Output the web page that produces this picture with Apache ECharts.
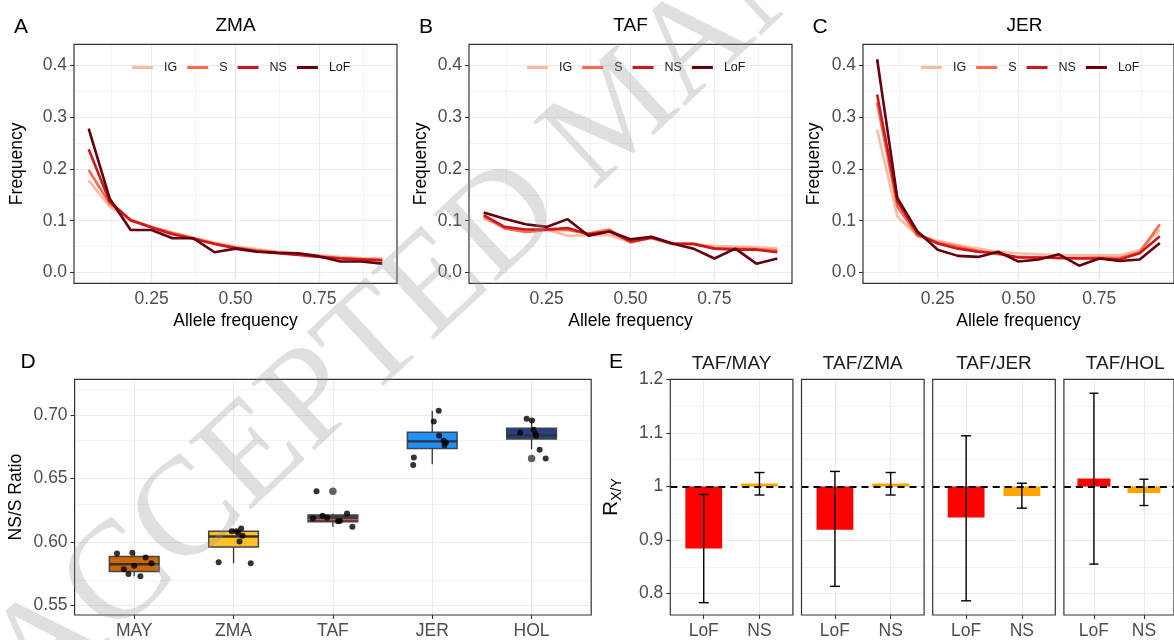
<!DOCTYPE html>
<html>
<head>
<meta charset="utf-8">
<script src="https://cdn.jsdelivr.net/npm/echarts@6/dist/echarts.min.js"></script>
<style>
html, body { margin: 0; padding: 0; background: #fff; }
#chart { width: 1174px; height: 640px; }
</style>
</head>
<body>
<div id="chart"></div>
<script>
// ---- data: site frequency spectra (panels A-C) ----
var AF_BINS = [0.0625, 0.125, 0.1875, 0.25, 0.3125, 0.375, 0.4375, 0.5, 0.5625, 0.625, 0.6875, 0.75, 0.8125, 0.875, 0.9375];
var SFS_CLASSES = ['IG', 'S', 'NS', 'LoF'];
var SFS_POPS = ['ZMA', 'TAF', 'JER'];

var ZMA_IG  = [0.178, 0.127, 0.100, 0.088, 0.077, 0.067, 0.058, 0.050, 0.045, 0.040, 0.036, 0.033, 0.030, 0.028, 0.027];
var ZMA_S   = [0.198, 0.133, 0.102, 0.088, 0.076, 0.066, 0.056, 0.048, 0.043, 0.039, 0.035, 0.031, 0.028, 0.026, 0.025];
var ZMA_NS  = [0.238, 0.137, 0.101, 0.087, 0.074, 0.065, 0.055, 0.047, 0.041, 0.037, 0.034, 0.030, 0.027, 0.025, 0.023];
var ZMA_LOF = [0.278, 0.143, 0.082, 0.082, 0.066, 0.066, 0.039, 0.046, 0.040, 0.038, 0.037, 0.031, 0.021, 0.021, 0.017];

var TAF_IG  = [0.104, 0.088, 0.079, 0.083, 0.071, 0.072, 0.072, 0.059, 0.066, 0.055, 0.054, 0.051, 0.050, 0.049, 0.046];
var TAF_S   = [0.108, 0.085, 0.078, 0.082, 0.082, 0.075, 0.083, 0.058, 0.067, 0.055, 0.056, 0.047, 0.046, 0.045, 0.043];
var TAF_NS  = [0.111, 0.088, 0.083, 0.083, 0.086, 0.074, 0.079, 0.060, 0.067, 0.056, 0.055, 0.046, 0.044, 0.044, 0.039];
var TAF_LOF = [0.116, 0.104, 0.093, 0.088, 0.103, 0.071, 0.079, 0.064, 0.069, 0.056, 0.046, 0.027, 0.046, 0.017, 0.027];

var JER_IG  = [0.276, 0.108, 0.071, 0.061, 0.053, 0.046, 0.040, 0.037, 0.035, 0.033, 0.033, 0.033, 0.033, 0.043, 0.083];
var JER_S   = [0.328, 0.127, 0.071, 0.058, 0.050, 0.042, 0.035, 0.030, 0.029, 0.028, 0.028, 0.029, 0.028, 0.039, 0.093];
var JER_NS  = [0.344, 0.137, 0.075, 0.056, 0.046, 0.040, 0.037, 0.029, 0.029, 0.028, 0.027, 0.027, 0.025, 0.037, 0.070];
var JER_LOF = [0.412, 0.144, 0.079, 0.044, 0.032, 0.030, 0.040, 0.021, 0.025, 0.035, 0.013, 0.027, 0.022, 0.025, 0.057];

var SFS = [
  [ZMA_IG, ZMA_S, ZMA_NS, ZMA_LOF],
  [TAF_IG, TAF_S, TAF_NS, TAF_LOF],
  [JER_IG, JER_S, JER_NS, JER_LOF]
];

// ---- data: NS/S ratio boxplots (panel D) ----
var POPS = ['MAY', 'ZMA', 'TAF', 'JER', 'HOL'];
var BOX_MIN = [0.5731, 0.5833, 0.6119, 0.6613, 0.6730];
var BOX_Q1  = [0.5768, 0.5960, 0.6160, 0.6737, 0.6810];
var BOX_MED = [0.5825, 0.6043, 0.6176, 0.6792, 0.6841];
var BOX_Q3  = [0.5885, 0.6085, 0.6212, 0.6865, 0.6896];
var BOX_MAX = [0.5916, 0.6106, 0.6225, 0.7034, 0.6971];
var OUTLIER_X = [3, 5];
var OUTLIER_Y = [0.640, 0.6657];
// jittered points (x = jittered category position)
var PTS_X = [0.827, 0.981, 1.115, 1.173, 0.896, 1.000, 0.942, 1.062,
             1.850, 2.173, 1.981, 2.030, 2.077, 2.092, 2.060, 2.046,
             2.835, 2.800, 2.896, 2.942, 3.050, 3.070, 3.142, 3.196,
             4.065, 4.015, 3.815, 3.808, 4.069, 4.115, 4.138, 4.123,
             4.950, 5.004, 4.885, 5.019, 5.038, 5.046, 5.081, 5.142];
var PTS_Y = [0.5910, 0.5916, 0.5877, 0.5833, 0.5786, 0.5812, 0.5747, 0.5731,
             0.5840, 0.5833, 0.6085, 0.6085, 0.6106, 0.6049, 0.6004, 0.6072,
             0.6400, 0.6186, 0.6207, 0.6191, 0.6163, 0.6166, 0.6225, 0.6119,
             0.7034, 0.6948, 0.6665, 0.6607, 0.6836, 0.6797, 0.6784, 0.6761,
             0.6971, 0.6956, 0.6862, 0.6883, 0.6852, 0.6836, 0.6727, 0.6657];

// ---- data: R_X/Y ratios (panel E) ----
var PAIRS = ['TAF/MAY', 'TAF/ZMA', 'TAF/JER', 'TAF/HOL'];
var TYPES = ['LoF', 'NS'];
var R_LOF    = [0.884, 0.919, 0.942, 1.015];
var R_LOF_LO = [0.783, 0.8135, 0.7865, 0.855];
var R_LOF_HI = [0.985, 1.028, 1.0945, 1.174];
var R_NS     = [1.0055, 1.0055, 0.982, 0.9877];
var R_NS_LO  = [0.984, 0.984, 0.9595, 0.9644];
var R_NS_HI  = [1.026, 1.026, 1.006, 1.0135];

// ---- styles ----
var FONT = '"Liberation Sans", Arial, Helvetica, sans-serif';
var SFS_COLORS = ['#FCBBA1', '#FB6A4A', '#CB181D', '#67000D'];
var BOX_FILL = ['#CD6600', '#FFC125', '#3D3D3D', '#1E90FF', '#27408B'];
var MEDIAN_COLOR = ['#333333', '#333333', '#E8474B', '#333333', '#333333'];
var MEDIAN_W = [2.4, 2.4, 1.2, 2.4, 2.4];
var TYPE_COLORS = ['#FF0000', '#FFA500'];
var GRID_COLOR = '#EBEBEB';
var TICK_SIZE = 17.5;
var BOX_HALF = 0.25, BAR_HALF = 0.33, CAP_W = 0.18;

var SFS_LEFT = [74, 469, 863];
var SFS_YGAP = [48, 39, 40];
var E_LEFT0 = 670.3, E_STEP = 131.2, E_W = 122.6;

var chart = echarts.init(document.getElementById('chart'));

function valAxis(gi, min, max, ticks, fmt, showLab) {
  return {
    type: 'value', gridIndex: gi, min: min, max: max,
    axisLine: { show: false },
    axisTick: { show: showLab, length: 4, customValues: ticks, lineStyle: { color: '#333', width: 1.1 } },
    axisLabel: { show: showLab, customValues: ticks, formatter: fmt, color: '#4D4D4D', fontSize: TICK_SIZE, fontFamily: FONT, margin: 7 },
    splitLine: { show: false }
  };
}

function gridLines(gi, xMaj, xMin, yMaj, yMin) {
  var d = [];
  xMin.forEach(function (v) { d.push({ xAxis: v, lineStyle: { width: 0.6 } }); });
  yMin.forEach(function (v) { d.push({ yAxis: v, lineStyle: { width: 0.6 } }); });
  xMaj.forEach(function (v) { d.push({ xAxis: v, lineStyle: { width: 1.1 } }); });
  yMaj.forEach(function (v) { d.push({ yAxis: v, lineStyle: { width: 1.1 } }); });
  return {
    type: 'line', xAxisIndex: gi, yAxisIndex: gi, data: [], silent: true,
    markLine: { silent: true, z: 1, symbol: 'none', animation: false, label: { show: false },
      lineStyle: { color: GRID_COLOR, type: 'solid' }, data: d }
  };
}

var grids = [], xAxes = [], yAxes = [], series = [], legends = [], graphics = [];
function txt(s, x, y, size, color) {
  graphics.push({ type: 'text', x: x, y: y, z: 50, style: { text: s, fontSize: size, fontFamily: FONT, fill: color || '#000', align: 'center', verticalAlign: 'middle' } });
}

// panels A-C
SFS_POPS.forEach(function (pop, p) {
  grids.push({ left: SFS_LEFT[p], top: 44.3, width: 323, height: 239, show: true, borderColor: '#333', borderWidth: 1.2, z: 10 });
  var xa = valAxis(p, 0.01875, 0.98125, [0.25, 0.5, 0.75], function (v) { return v.toFixed(2); }, true);
  xa.name = 'Allele frequency'; xa.nameLocation = 'middle'; xa.nameGap = 29;
  xa.nameTextStyle = { fontSize: 17.5, fontFamily: FONT, color: '#000' };
  xAxes.push(xa);
  var ya = valAxis(p, -0.021, 0.441, [0, 0.1, 0.2, 0.3, 0.4], function (v) { return v.toFixed(1); }, true);
  ya.name = 'Frequency'; ya.nameLocation = 'middle'; ya.nameGap = SFS_YGAP[p];
  ya.nameTextStyle = { fontSize: 17.5, fontFamily: FONT, color: '#000' };
  yAxes.push(ya);
  series.push(gridLines(p, [0.25, 0.5, 0.75], [0.125, 0.375, 0.625, 0.875], [0, 0.1, 0.2, 0.3, 0.4], [0.05, 0.15, 0.25, 0.35]));
  SFS_CLASSES.forEach(function (cls, c) {
    series.push({
      type: 'line', name: cls, xAxisIndex: p, yAxisIndex: p,
      data: AF_BINS.map(function (x, i) { return [x, SFS[p][c][i]]; }),
      showSymbol: false, symbol: 'none', color: SFS_COLORS[c],
      lineStyle: { color: SFS_COLORS[c], width: 2.6 }, silent: true, animation: false
    });
  });
  legends.push({
    data: SFS_CLASSES, left: SFS_LEFT[p] + 58, top: 61, padding: 0, orient: 'horizontal',
    icon: 'rect', itemWidth: 21, itemHeight: 3, itemGap: 10, selectedMode: false,
    textStyle: { fontSize: 12.5, fontFamily: FONT, color: '#1a1a1a', padding: [0, 0, 0, 6] }
  });
  txt(pop, SFS_LEFT[p] + 161.5, 26, 19);
});
txt('A', 21, 27, 21); txt('B', 426, 27, 21); txt('C', 820, 27, 21);

// panel D
grids.push({ left: 74.6, top: 379.3, width: 516.6, height: 238, show: true, borderColor: '#333', borderWidth: 1.2, z: 10 });
xAxes.push(valAxis(3, 0.4, 5.6, [1, 2, 3, 4, 5], function (v) { return POPS[Math.round(v) - 1] || ''; }, true));
var yd = valAxis(3, 0.5425, 0.7281, [0.55, 0.6, 0.65, 0.7], function (v) { return v.toFixed(2); }, true);
yd.name = 'NS/S Ratio'; yd.nameLocation = 'middle'; yd.nameGap = 49;
yd.nameTextStyle = { fontSize: 17.5, fontFamily: FONT, color: '#000' };
yAxes.push(yd);
series.push(gridLines(3, [1, 2, 3, 4, 5], [], [0.55, 0.6, 0.65, 0.7], [0.575, 0.625, 0.675, 0.725]));
series.push({
  type: 'custom', xAxisIndex: 3, yAxisIndex: 3, silent: true, animation: false,
  data: POPS.map(function (n, i) { return [i + 1, BOX_MIN[i], BOX_Q1[i], BOX_MED[i], BOX_Q3[i], BOX_MAX[i]]; }),
  renderItem: function (params, api) {
    var i = params.dataIndex, x = api.value(0);
    var lo = api.coord([x, api.value(1)]);
    var q1 = api.coord([x - BOX_HALF, api.value(2)]);
    var m0 = api.coord([x - BOX_HALF, api.value(3)]);
    var m1 = api.coord([x + BOX_HALF, api.value(3)]);
    var q3 = api.coord([x + BOX_HALF, api.value(4)]);
    var hi = api.coord([x, api.value(5)]);
    var ws = { stroke: '#333', lineWidth: 1.3 };
    return { type: 'group', children: [
      { type: 'line', shape: { x1: lo[0], y1: hi[1], x2: lo[0], y2: q3[1] }, style: ws },
      { type: 'line', shape: { x1: lo[0], y1: q1[1], x2: lo[0], y2: lo[1] }, style: ws },
      { type: 'rect', shape: { x: q1[0], y: q3[1], width: q3[0] - q1[0], height: q1[1] - q3[1] },
        style: { fill: BOX_FILL[i], stroke: '#444', lineWidth: 1.5 } },
      { type: 'line', shape: { x1: m0[0], y1: m0[1], x2: m1[0], y2: m1[1] }, style: { stroke: MEDIAN_COLOR[i], lineWidth: MEDIAN_W[i] } }
    ] };
  }
});
series.push({
  type: 'scatter', xAxisIndex: 3, yAxisIndex: 3, silent: true, animation: false,
  symbolSize: 7.5, itemStyle: { color: '#3a3a3a' },
  data: OUTLIER_X.map(function (x, i) { return [x, OUTLIER_Y[i]]; })
});
series.push({
  type: 'scatter', xAxisIndex: 3, yAxisIndex: 3, silent: true, animation: false,
  symbolSize: 6, itemStyle: { color: '#000' },
  data: PTS_X.map(function (x, i) { return [x, PTS_Y[i]]; })
});
txt('D', 28, 362.5, 21);

// panel E
PAIRS.forEach(function (pair, k) {
  var gi = 4 + k, left = E_LEFT0 + k * E_STEP;
  grids.push({ left: left, top: 379.3, width: E_W, height: 238, show: true, borderColor: '#333', borderWidth: 1.2, z: 10 });
  xAxes.push(valAxis(gi, 0.4, 2.6, [1, 2], function (v) { return TYPES[Math.round(v) - 1] || ''; }, true));
  var ye = valAxis(gi, 0.76, 1.2, [0.8, 0.9, 1, 1.1, 1.2], function (v) { return v === 1 ? '1' : v.toFixed(1); }, k === 0);
  if (k === 0) {
    ye.name = '{r|R}{s|X/Y}'; ye.nameLocation = 'middle'; ye.nameGap = 46;
    ye.nameTextStyle = { rich: {
      r: { fontSize: 21, fontFamily: FONT, color: '#000', lineHeight: 26 },
      s: { fontSize: 14, fontFamily: FONT, color: '#000', lineHeight: 14, verticalAlign: 'bottom' }
    } };
  }
  yAxes.push(ye);
  series.push(gridLines(gi, [1, 2], [], [0.8, 0.9, 1, 1.1], [0.85, 0.95, 1.05, 1.15]));
  series.push({
    type: 'custom', xAxisIndex: gi, yAxisIndex: gi, silent: true, animation: false,
    data: [[1, R_LOF[k]], [2, R_NS[k]]],
    renderItem: function (params, api) {
      var x = api.value(0);
      var a = api.coord([x - BAR_HALF, 1]), b = api.coord([x + BAR_HALF, api.value(1)]);
      return { type: 'rect', shape: { x: a[0], y: Math.min(a[1], b[1]), width: b[0] - a[0], height: Math.abs(a[1] - b[1]) },
        style: { fill: TYPE_COLORS[params.dataIndex] } };
    },
    markLine: { silent: true, z: 6, symbol: 'none', animation: false, label: { show: false },
      lineStyle: { color: '#000', type: [7, 5], width: 2 }, data: [{ yAxis: 1 }] }
  });
  series.push({
    type: 'custom', xAxisIndex: gi, yAxisIndex: gi, silent: true, animation: false, z: 7,
    data: [[1, R_LOF_LO[k], R_LOF_HI[k]], [2, R_NS_LO[k], R_NS_HI[k]]],
    renderItem: function (params, api) {
      var x = api.value(0);
      var lo = api.coord([x, api.value(1)]), hi = api.coord([x, api.value(2)]);
      var w = api.size([CAP_W, 0])[0] / 2;
      var st = { stroke: '#000', lineWidth: 1.4 };
      return { type: 'group', children: [
        { type: 'line', shape: { x1: lo[0], y1: lo[1], x2: hi[0], y2: hi[1] }, style: st },
        { type: 'line', shape: { x1: lo[0] - w, y1: lo[1], x2: lo[0] + w, y2: lo[1] }, style: st },
        { type: 'line', shape: { x1: hi[0] - w, y1: hi[1], x2: hi[0] + w, y2: hi[1] }, style: st }
      ] };
    }
  });
  txt(pair, left + E_W / 2, 363.7, 19, '#1a1a1a');
});
txt('E', 616, 362.5, 21);

// watermark
graphics.push({
  type: 'text', x: 12, y: 681, rotation: 42.9 * Math.PI / 180, z: 100, silent: true,
  style: { text: 'ACCEPTED MANUSCRIPT', fontSize: 140, fontFamily: '"Liberation Serif", "DejaVu Serif", serif',
    fill: 'rgba(150,150,150,0.3)', align: 'left', verticalAlign: 'middle' }
});

chart.setOption({
  animation: false,
  backgroundColor: '#fff',
  grid: grids,
  xAxis: xAxes,
  yAxis: yAxes,
  legend: legends,
  series: series,
  graphic: graphics
});
</script>
</body>
</html>
